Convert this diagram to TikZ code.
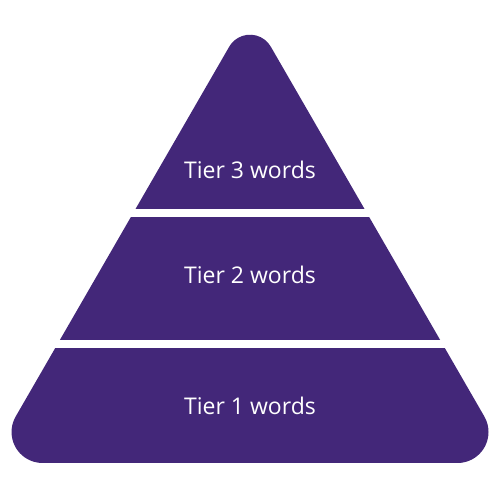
\documentclass[tikz,border=0pt]{standalone}
\usepackage{fontspec}
\setmainfont{Open Sans}
\definecolor{tierpurple}{HTML}{432779}
\begin{document}
\begin{tikzpicture}[x=1pt,y=1pt,
  tierlabel/.style={text=white,font=\fontsize{23}{27}\selectfont,anchor=base,inner sep=0pt}]
\useasboundingbox (0,0) rectangle (500,500);
\begin{scope}
\clip (42.5,37) -- (457.5,37) arc[start angle=-90,end angle=30,radius=31]
  -- (270.8,453.3) arc[start angle=30,end angle=150,radius=24]
  -- (15.7,83.5) arc[start angle=150,end angle=270,radius=31] -- cycle;
\fill[tierpurple] (0,290.5) rectangle (500,500);
\fill[tierpurple] (0,159.7) rectangle (500,282.5);
\fill[tierpurple] (0,0) rectangle (500,151.7);
\end{scope}
\node[tierlabel] (t3) at (250,321) {Tier 3 words};
\node[tierlabel] (t2) at (250,216) {Tier 2 words};
\node[tierlabel] (t1) at (250,85.7) {Tier 1 words};
\end{tikzpicture}
\end{document}
